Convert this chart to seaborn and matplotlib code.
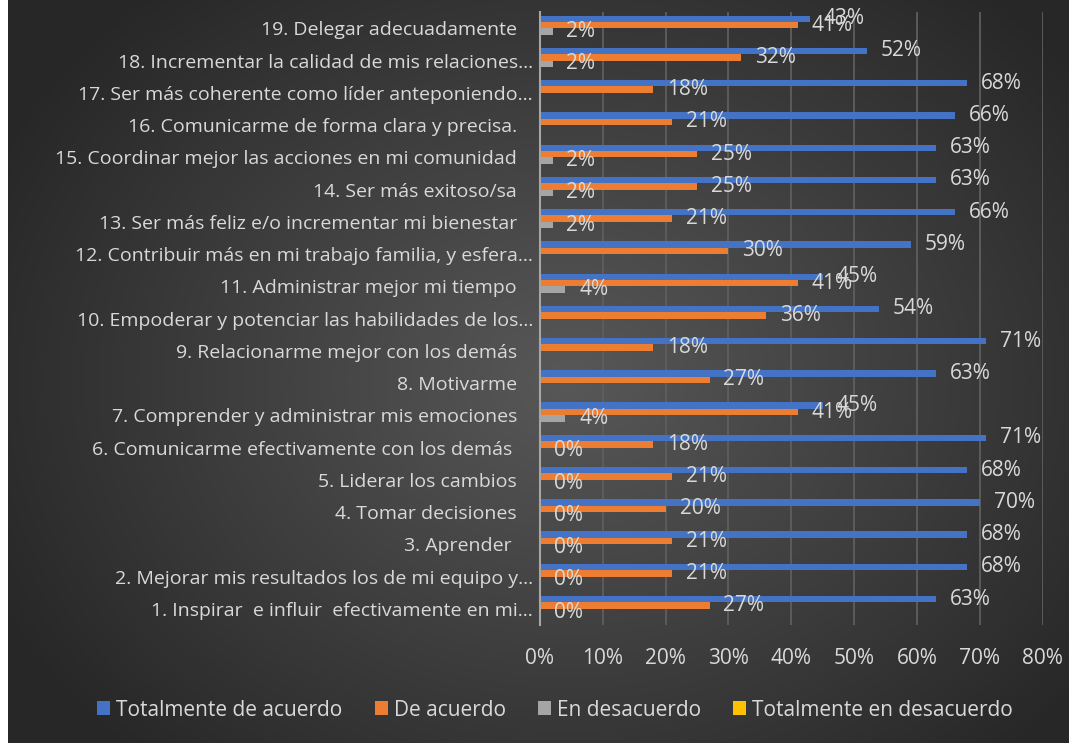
import numpy as np
import pandas as pd
import matplotlib
matplotlib.use("Agg")
import matplotlib.pyplot as plt
import matplotlib.transforms as mtransforms
from matplotlib.patches import Patch
import seaborn as sns

# items, listed from 1 to 19 (drawn with 19 at the top)
items = [
    "1. Inspirar  e influir  efectivamente en mi…",
    "2. Mejorar mis resultados los de mi equipo y…",
    "3. Aprender ",
    "4. Tomar decisiones",
    "5. Liderar los cambios",
    "6. Comunicarme efectivamente con los demás ",
    "7. Comprender y administrar mis emociones",
    "8. Motivarme",
    "9. Relacionarme mejor con los demás",
    "10. Empoderar y potenciar las habilidades de los…",
    "11. Administrar mejor mi tiempo",
    "12. Contribuir más en mi trabajo familia, y esfera…",
    "13. Ser más feliz e/o incrementar mi bienestar",
    "14. Ser más exitoso/sa",
    "15. Coordinar mejor las acciones en mi comunidad",
    "16. Comunicarme de forma clara y precisa.",
    "17. Ser más coherente como líder anteponiendo…",
    "18. Incrementar la calidad de mis relaciones…",
    "19. Delegar adecuadamente",
]

series_names = ["Totalmente de acuerdo", "De acuerdo", "En desacuerdo",
                "Totalmente en desacuerdo"]

totalmente_de_acuerdo = [63, 68, 68, 70, 68, 71, 45, 63, 71, 54,
                         45, 59, 66, 63, 63, 66, 68, 52, 43]
de_acuerdo = [27, 21, 21, 20, 21, 18, 41, 27, 18, 36,
              41, 30, 21, 25, 25, 21, 18, 32, 41]
en_desacuerdo = [0, 0, 0, 0, 0, 0, 4, None, None, None,
                 4, None, 2, 2, 2, None, None, 2, 2]
totalmente_en_desacuerdo = [None, None, None, None, None, None, None, None, None, None,
                            None, None, None, None, None, None, None, None, None]

x_ticks = [0, 10, 20, 30, 40, 50, 60, 70, 80]

colors = ["#4472C4", "#ED7D31", "#A5A5A5", "#FFC000"]
text_color = "#D9D9D9"

rows = []
for serie, vals in zip(series_names, [totalmente_de_acuerdo, de_acuerdo,
                                      en_desacuerdo, totalmente_en_desacuerdo]):
    for item, v in zip(items, vals):
        if v is not None:
            rows.append({"item": item, "serie": serie, "valor": v})
df = pd.DataFrame(rows)

sns.set_style("dark")
plt.rcParams["font.family"] = ["Open Sans", "DejaVu Sans"]

W, H = 1069, 743
fig = plt.figure(figsize=(W / 100, H / 100), dpi=100)
fig.patch.set_facecolor("white")

# radial gradient background
bg = fig.add_axes([8 / W, 0, 1 - 8 / W, 1])
yy, xx = np.mgrid[0:H, 0:W - 8]
r = np.sqrt(((xx - 560) / 640.0) ** 2 + ((yy - 380) / 520.0) ** 2)
r = np.clip(r, 0, 1)
c_in = np.array([0x58, 0x58, 0x58]) / 255
c_out = np.array([0x27, 0x27, 0x27]) / 255
img = c_in[None, None, :] + (c_out - c_in)[None, None, :] * r[..., None]
bg.imshow(img, aspect="auto")
bg.set_axis_off()

ax = fig.add_axes([540 / W, 1 - 625 / H, 502.5 / W, 612.7 / H])
ax.set_facecolor("none")

sns.barplot(data=df, x="valor", y="item", hue="serie", order=items[::-1],
            hue_order=series_names, palette=dict(zip(series_names, colors)),
            orient="h", errorbar=None, saturation=1, width=0.8,
            legend=False, ax=ax, edgecolor="none", linewidth=0)

for c in ax.containers:
    ax.bar_label(c, fmt="{:.0f}%", padding=10, color=text_color, fontsize=15)

ax.set_xlim(0, 80)
ax.set_ylim(len(items) - 0.5, -0.5)
ax.set_xticks(x_ticks)
ax.set_xticklabels([f"{t}%" for t in x_ticks])
ax.set_xlabel("")
ax.set_ylabel("")
ax.tick_params(axis="x", length=0, pad=16.5, labelsize=15, labelcolor=text_color)
ax.tick_params(axis="y", length=0, pad=16.5, labelsize=14, labelcolor=text_color)

ax.grid(axis="x", color="#5E5E5E", lw=1.3)
ax.grid(axis="y", visible=False)
ax.set_axisbelow(True)
for s in ["top", "right", "bottom"]:
    ax.spines[s].set_visible(False)
ax.spines["left"].set_color("#A6A6A6")
ax.spines["left"].set_linewidth(1.5)

# truncated labels reach closer to the axis
shift = mtransforms.ScaledTranslation(16 / 100, 0, fig.dpi_scale_trans)
for lab in ax.get_yticklabels():
    if lab.get_text().endswith("…"):
        lab.set_transform(lab.get_transform() + shift)

handles = [Patch(facecolor=c, edgecolor="none") for c in colors]
fig.legend(handles, series_names, loc="center", bbox_to_anchor=(555 / W, 1 - 710 / H),
           ncol=4, frameon=False, fontsize=15, labelcolor=text_color,
           handlelength=0.62, handleheight=0.62, handletextpad=0.28,
           columnspacing=1.55)

fig.savefig("out.png", dpi=100)
